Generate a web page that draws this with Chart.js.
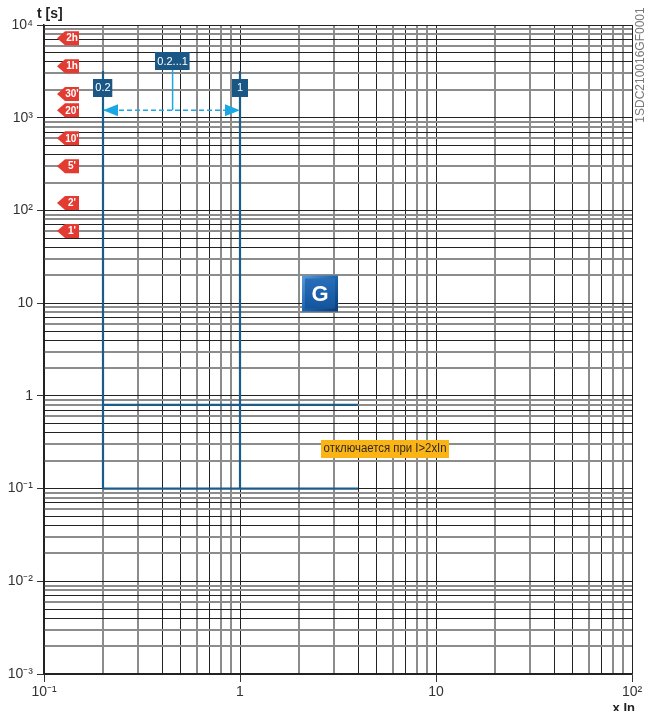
<!DOCTYPE html>
<html>
<head>
<meta charset="utf-8">
<script src="https://cdn.jsdelivr.net/npm/chart.js@4.4.1/dist/chart.umd.min.js"></script>
<style>
  html, body { margin: 0; padding: 0; background: #fff; }
  #wrap { position: relative; width: 648px; height: 711px; }
</style>
</head>
<body>
<div id="wrap"><canvas id="chart"></canvas></div>
<script>
// Axis decades and their labels
const xDecades = [0.1, 1, 10, 100];
const xDecadeLabels = ['10⁻¹', '1', '10', '10²'];
const yDecades = [0.001, 0.01, 0.1, 1, 10, 100, 1000, 10000];
const yDecadeLabels = ['10⁻³', '10⁻²', '10⁻¹', '1', '10', '10²', '10³', '10⁴'];

// Function G settings: threshold I4 [x In] and delay t4 [s]
const thresholds = [0.2, 1];
const delays = [0.8, 0.1];
const curveTop = 3200;   // upper end of the vertical branches [s]
const curveEnd = 4;      // right end of the horizontal branches [x In]

// Range arrow between the two thresholds
const rangeArrowX = [0.2, 1];
const rangeArrowT = [1200, 1200];
const rangeLeaderX = [0.453, 0.453];
const rangeLeaderT = [4040, 1200];

// Value boxes
const boxLabels = ['0.2', '1', '0.2...1'];
const boxX = [0.2, 1, 0.453];
const boxT = [2100, 2100, 4040];

// Time markers on the left
const markerLabels = ['2h', '1h', "30'", "20'", "10'", "5'", "2'", "1'"];
const markerTimes = [7200, 3600, 1800, 1200, 600, 300, 120, 60];

// Note and badge
const noteText = 'отключается при I>2xIn';
const noteX = 5.5;
const noteT = 0.27;
const badgeText = 'G';
const badgeX = 2.56;
const badgeT = 12.7;

// Colours
const curveColor = '#1d5c8a';
const arrowColor = '#1aa8e4';
const gridDark = '#222222';
const gridLight = '#8c8c8c';
const lightMantissas = [2, 3, 6, 8, 9];

function mantissa(v) {
    const e = Math.floor(Math.log10(v) + 1e-9);
    return Math.round(v / Math.pow(10, e));
}

function buildLogTicks(decades) {
    const ticks = [];
    decades.forEach((d, i) => {
        ticks.push({ value: d, major: true });
        if (i < decades.length - 1) {
            for (let m = 2; m <= 9; m++) ticks.push({ value: d * m, major: false });
        }
    });
    return ticks;
}

function decadeLabel(value, decades, labels) {
    const i = decades.findIndex(d => Math.abs(value / d - 1) < 1e-6);
    return i >= 0 ? labels[i] : '';
}

function gridStyle(ctx) {
    if (!ctx.tick) return gridDark;
    return lightMantissas.includes(mantissa(ctx.tick.value)) ? gridLight : gridDark;
}

function gridWidth(ctx) {
    if (!ctx.tick) return 1;
    return lightMantissas.includes(mantissa(ctx.tick.value)) ? 2 : 1;
}

function tickMarkColor(ctx) {
    if (!ctx.tick) return 'transparent';
    return mantissa(ctx.tick.value) === 1 ? '#333' : 'transparent';
}

// Datasets
const datasets = [];
thresholds.forEach(x => {
    datasets.push({
        data: [{ x: x, y: curveTop }, { x: x, y: Math.min(...delays) }],
        borderColor: curveColor, borderWidth: 2.2
    });
});
delays.forEach(t => {
    datasets.push({
        data: [{ x: thresholds[0], y: t }, { x: curveEnd, y: t }],
        borderColor: curveColor, borderWidth: 2.2
    });
});
datasets.push({
    data: rangeLeaderX.map((x, i) => ({ x: x, y: rangeLeaderT[i] })),
    borderColor: arrowColor, borderWidth: 1.5
});
datasets.push({
    data: rangeArrowX.map((x, i) => ({ x: x, y: rangeArrowT[i] })),
    borderColor: arrowColor, borderWidth: 1.5, borderDash: [5, 3]
});
datasets.forEach(ds => {
    ds.showLine = true;
    ds.pointRadius = 0;
    ds.fill = false;
});

// Draw marker tag pointing left
function drawTag(ctx, xTip, y, text) {
    const h = 14, w = 22, notch = 8;
    ctx.beginPath();
    ctx.moveTo(xTip, y);
    ctx.lineTo(xTip + notch, y - h / 2);
    ctx.lineTo(xTip + w, y - h / 2);
    ctx.lineTo(xTip + w, y + h / 2);
    ctx.lineTo(xTip + notch, y + h / 2);
    ctx.closePath();
    ctx.fillStyle = '#e33a32';
    ctx.fill();
    ctx.fillStyle = '#fff';
    ctx.font = 'bold 10px "Liberation Sans", Arial, sans-serif';
    ctx.textAlign = 'center';
    ctx.textBaseline = 'middle';
    ctx.fillText(text, xTip + (notch + w) / 2, y + 0.5);
}

function drawArrowHead(ctx, x, y, dir) {
    ctx.beginPath();
    ctx.moveTo(x, y);
    ctx.lineTo(x - dir * 15, y - 6);
    ctx.lineTo(x - dir * 15, y + 6);
    ctx.closePath();
    ctx.fillStyle = arrowColor;
    ctx.fill();
}

const annotations = {
    id: 'annotations',
    afterDatasetsDraw(chart) {
        const ctx = chart.ctx;
        const xs = chart.scales.x, ys = chart.scales.y;
        ctx.save();

        // arrow heads of the range arrow
        const ay = ys.getPixelForValue(rangeArrowT[0]);
        drawArrowHead(ctx, xs.getPixelForValue(rangeArrowX[0]), ay, -1);
        drawArrowHead(ctx, xs.getPixelForValue(rangeArrowX[1]), ay, 1);

        // value boxes
        ctx.font = '11px "Liberation Sans", Arial, sans-serif';
        boxLabels.forEach((label, i) => {
            const cx = xs.getPixelForValue(boxX[i]);
            const cy = ys.getPixelForValue(boxT[i]);
            const w = Math.max(16, ctx.measureText(label).width + 4);
            const h = 18;
            ctx.fillStyle = '#1b5784';
            ctx.fillRect(Math.round(cx - w / 2), Math.round(cy - h / 2), w, h);
            ctx.fillStyle = '#fff';
            ctx.textAlign = 'center';
            ctx.textBaseline = 'middle';
            ctx.fillText(label, cx, cy + 0.5);
        });

        // time markers
        const tipX = chart.chartArea.left + 13;
        markerTimes.forEach((t, i) => {
            drawTag(ctx, tipX, ys.getPixelForValue(t), markerLabels[i]);
        });

        // G badge
        const gx = xs.getPixelForValue(badgeX), gy = ys.getPixelForValue(badgeT);
        const s = 36;
        const outer = ctx.createLinearGradient(gx - s / 2, gy - s / 2, gx + s / 2, gy + s / 2);
        outer.addColorStop(0, '#5b9ad8');
        outer.addColorStop(0.5, '#1b64ae');
        outer.addColorStop(1, '#0a3a72');
        ctx.fillStyle = outer;
        ctx.fillRect(gx - s / 2, gy - s / 2, s, s);
        const inner = ctx.createLinearGradient(0, gy - s / 2, 0, gy + s / 2);
        inner.addColorStop(0, '#2a70bb');
        inner.addColorStop(1, '#11529a');
        ctx.fillStyle = inner;
        ctx.fillRect(gx - s / 2 + 3, gy - s / 2 + 3, s - 6, s - 6);
        ctx.fillStyle = '#fff';
        ctx.font = 'bold 22px "Liberation Sans", Arial, sans-serif';
        ctx.textAlign = 'center';
        ctx.textBaseline = 'middle';
        ctx.fillText(badgeText, gx, gy + 1);

        // note, condensed to the width of the original
        const nx = xs.getPixelForValue(noteX), ny = ys.getPixelForValue(noteT);
        ctx.font = '12px "Liberation Sans", Arial, sans-serif';
        const tw = ctx.measureText(noteText).width;
        const squeeze = 123 / tw;
        const nw = 128;
        ctx.fillStyle = '#fbb416';
        ctx.fillRect(Math.round(nx - nw / 2), Math.round(ny - 9), nw, 18);
        ctx.fillStyle = '#2e2a20';
        ctx.textAlign = 'center';
        ctx.textBaseline = 'middle';
        ctx.translate(nx, ny + 0.5);
        ctx.scale(squeeze, 1);
        ctx.fillText(noteText, 0, 0);

        ctx.restore();
    },
    afterDraw(chart) {
        const ctx = chart.ctx;
        ctx.save();
        ctx.fillStyle = '#222';
        ctx.font = 'bold 14px "Liberation Sans", Arial, sans-serif';
        ctx.textAlign = 'left';
        ctx.textBaseline = 'alphabetic';
        ctx.fillText('t [s]', 37, 18);
        ctx.font = 'bold 13px "Liberation Sans", Arial, sans-serif';
        ctx.textAlign = 'right';
        ctx.fillText('x In', 635, 712);

        // drawing code, rotated
        ctx.translate(641, 65);
        ctx.rotate(-Math.PI / 2);
        ctx.font = '12px "Liberation Sans", Arial, sans-serif';
        ctx.fillStyle = '#777';
        ctx.textAlign = 'center';
        ctx.textBaseline = 'middle';
        ctx.fillText('1SDC210016GF0001', 0, 0);
        ctx.restore();
    }
};

const tickFont = { family: '"Liberation Sans", Arial, sans-serif', size: 14 };

new Chart(document.getElementById('chart'), {
    type: 'scatter',
    data: { datasets: datasets },
    options: {
        responsive: true,
        maintainAspectRatio: false,
        animation: false,
        layout: { padding: { top: 25, right: 16, left: 0, bottom: 0 } },
        plugins: {
            legend: { display: false },
            tooltip: { enabled: false }
        },
        scales: {
            x: {
                type: 'logarithmic',
                min: 0.1,
                max: 100,
                afterBuildTicks: scale => { scale.ticks = buildLogTicks(xDecades); },
                afterFit: scale => { scale.height = 37; },
                ticks: {
                    autoSkip: false,
                    maxRotation: 0,
                    minRotation: 0,
                    padding: 2,
                    color: '#333',
                    font: tickFont,
                    callback: v => decadeLabel(v, xDecades, xDecadeLabels)
                },
                grid: {
                    color: gridStyle,
                    lineWidth: gridWidth,
                    tickColor: tickMarkColor,
                    tickLength: 8,
                    tickWidth: 1
                },
                border: { display: true, color: '#222', width: 1.5 }
            },
            y: {
                type: 'logarithmic',
                min: 0.001,
                max: 10000,
                afterBuildTicks: scale => { scale.ticks = buildLogTicks(yDecades); },
                afterFit: scale => { scale.width = 44; },
                ticks: {
                    autoSkip: false,
                    padding: 4,
                    color: '#333',
                    font: tickFont,
                    callback: v => decadeLabel(v, yDecades, yDecadeLabels)
                },
                grid: {
                    color: gridStyle,
                    lineWidth: gridWidth,
                    tickColor: tickMarkColor,
                    tickLength: 7,
                    tickWidth: 1
                },
                border: { display: true, color: '#222', width: 1.5 }
            }
        }
    },
    plugins: [annotations]
});
</script>
</body>
</html>
